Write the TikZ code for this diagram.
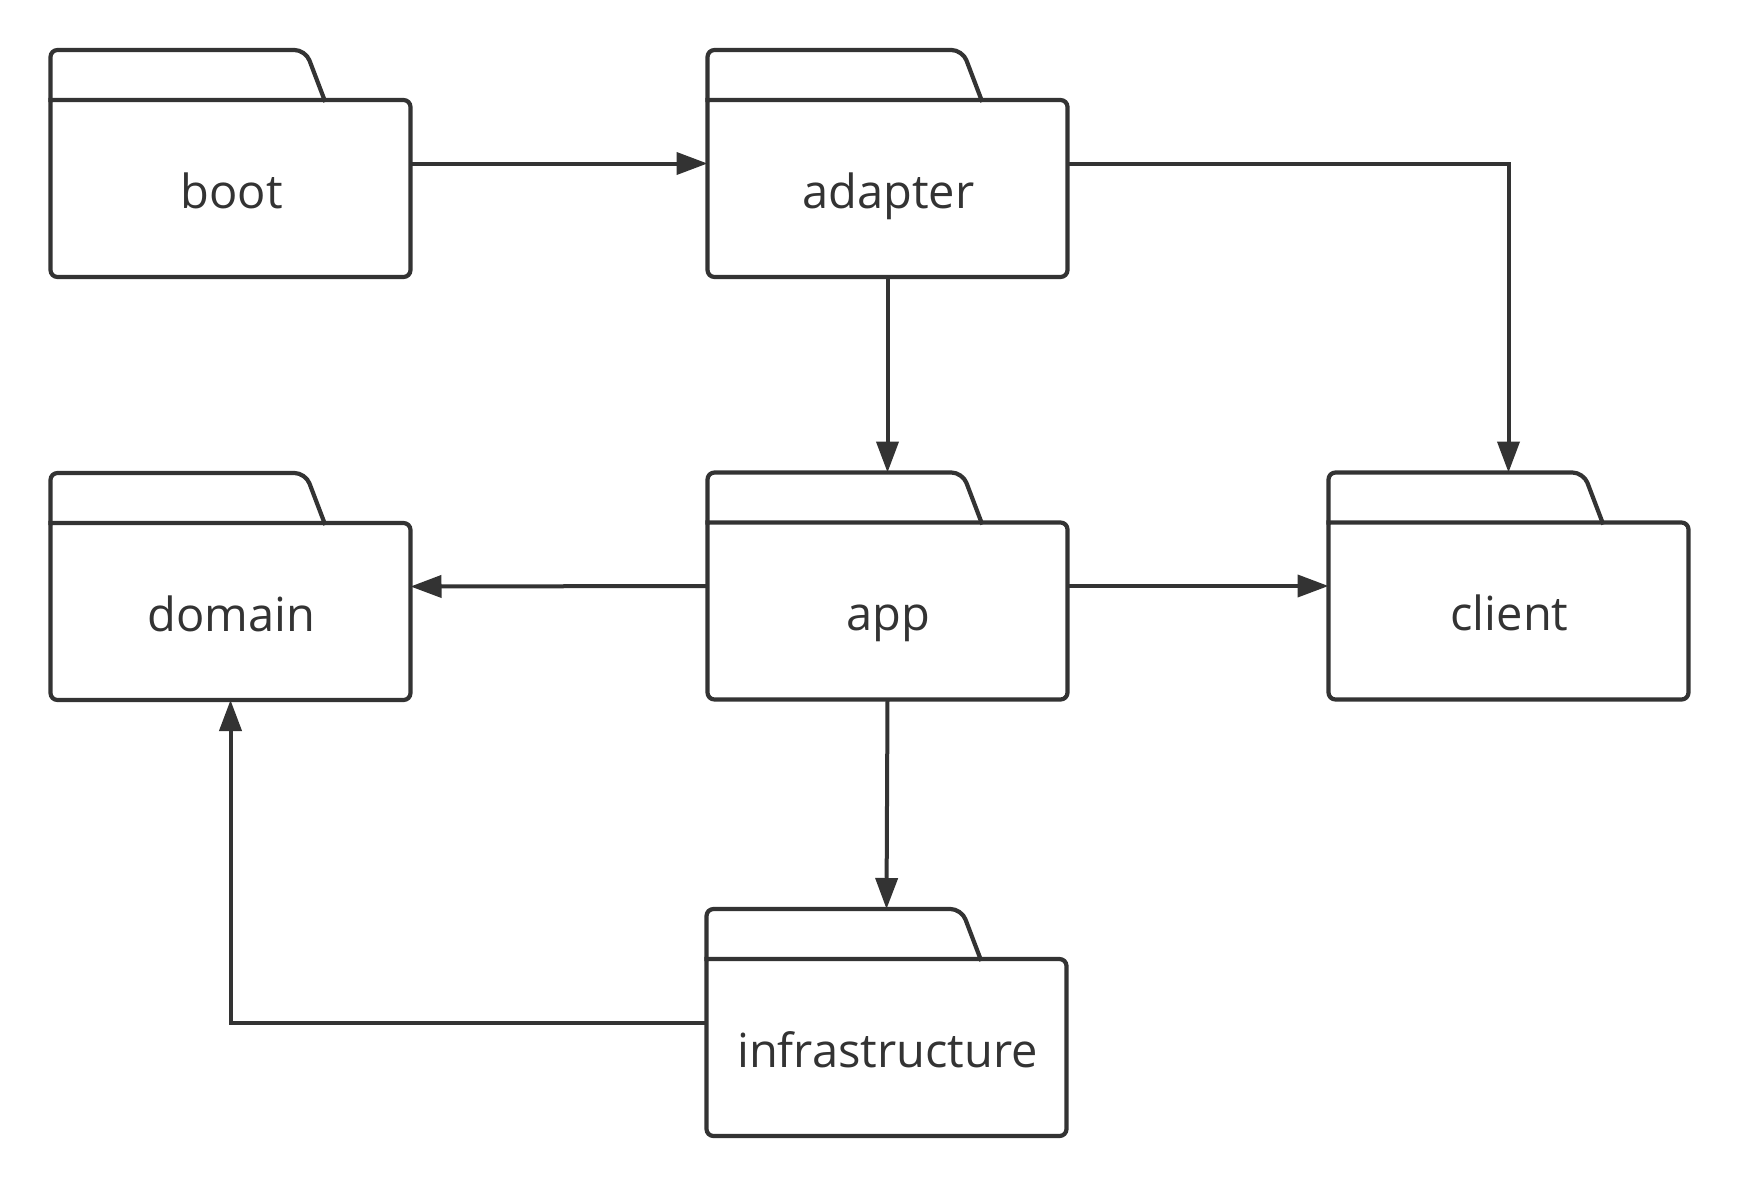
\documentclass[tikz,border=0pt]{standalone}
\usepackage{fontspec}
\setmainfont{Open Sans}
\usetikzlibrary{arrows.meta}
\definecolor{ink}{HTML}{333333}
\tikzset{
  x=1pt,y=-1pt,
  folderbox/.style={minimum width=360pt,minimum height=227pt,inner sep=0pt,outer sep=0pt,anchor=north west},
  folderline/.style={draw=ink,line width=4.2pt,line join=round,line cap=rect},
  foldertext/.style={text=ink,font=\fontsize{47}{56}\selectfont,inner sep=0pt,anchor=base},
  link/.style={draw=ink,line width=4pt,-{Triangle[length=31pt,width=22pt]}},
}
\newcommand{\folderat}[4]{%
  \node[folderbox] (#1) at (#2,#3) {};
  \draw[folderline] (#2,#3+50) [rounded corners=7pt] -- (#2,#3) [rounded corners=11pt] -- (#2+255,#3) [sharp corners] -- (#2+274,#3+50);
  \draw[folderline,rounded corners=7pt] (#2,#3+50) -- (#2+360,#3+50) -- (#2+360,#3+227) -- (#2,#3+227) -- (#2,#3+50);
  \node[foldertext] (#1-label) at (#2+181,#3+158) {#4};
}
\begin{document}
\begin{tikzpicture}
\useasboundingbox[fill=white] (0,0) rectangle (1738,1186);
\folderat{boot}{50.5}{50}{boot}
\folderat{adapter}{707.5}{50}{adapter}
\folderat{domain}{50.5}{473}{domain}
\folderat{app}{707.5}{472.5}{app}
\folderat{client}{1328.5}{472.5}{client}
\folderat{infra}{706.5}{909}{infrastructure}
\draw[link] (boot.east) -- (adapter.west);
\draw[link] (adapter.east) -| (client.north);
\draw[link] (adapter.south) -- (app.north);
\draw[link] (app.west) -- (domain.east);
\draw[link] (app.east) -- (client.west);
\draw[link] (app.south) -- (infra.north);
\draw[link] (infra.west) -| (domain.south);
\end{tikzpicture}
\end{document}
